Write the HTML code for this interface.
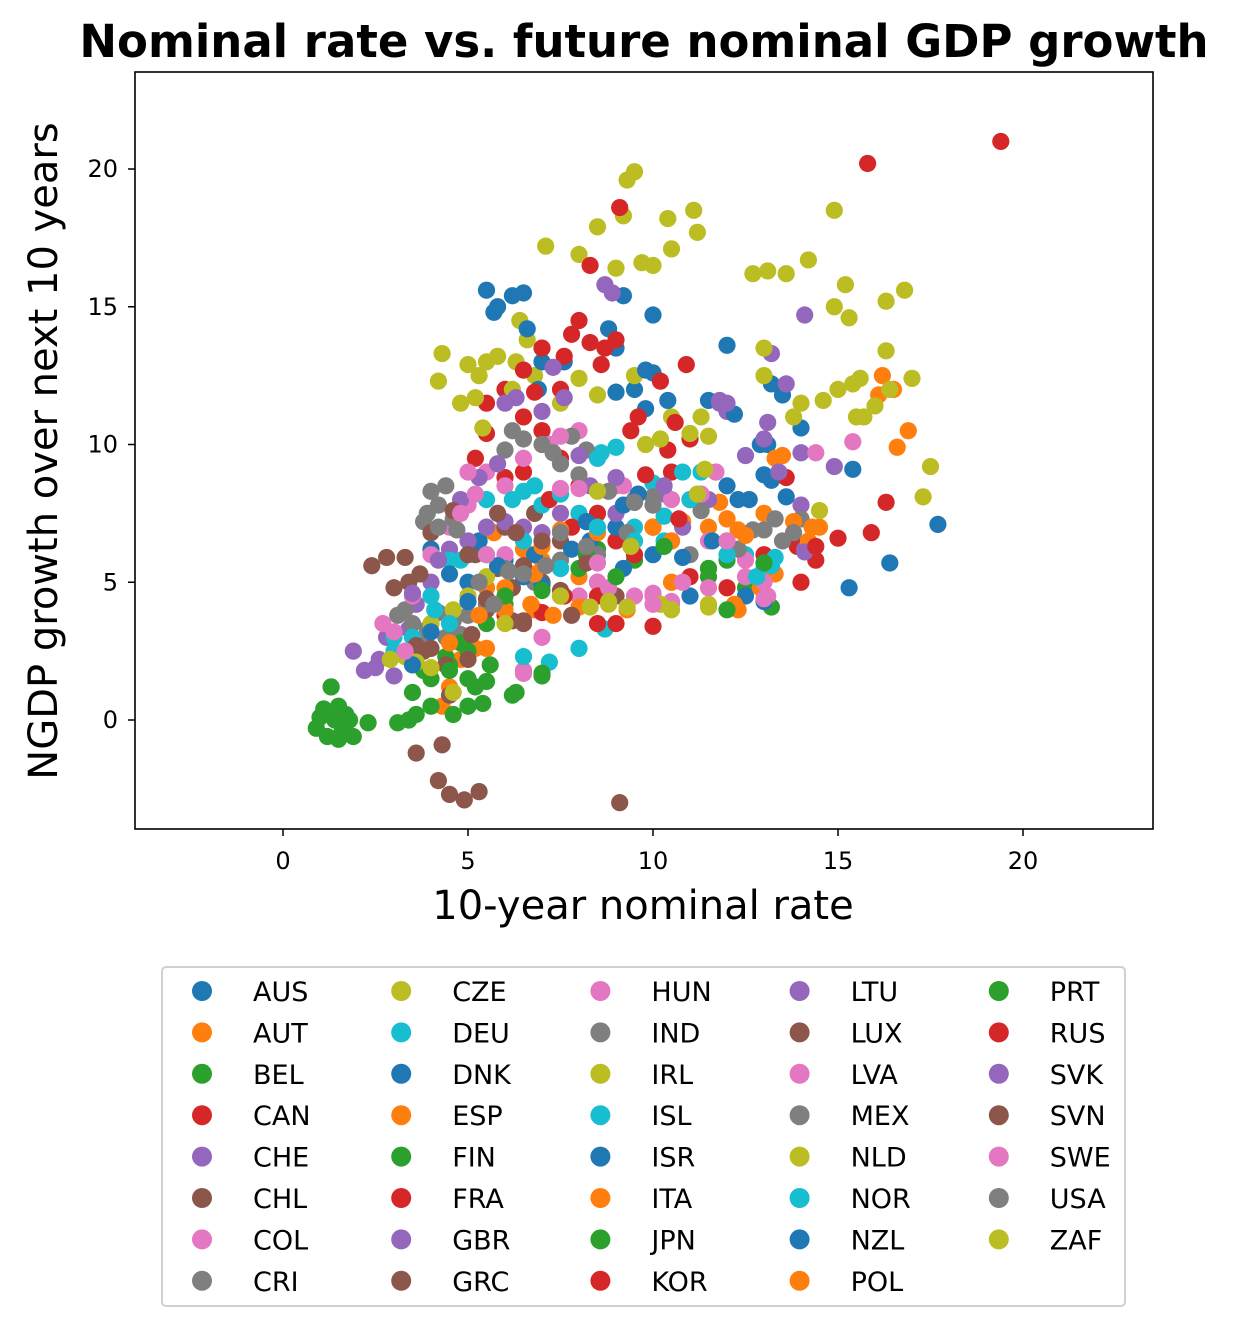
<!DOCTYPE html>
<html><head><meta charset="utf-8">
<style>
html,body{margin:0;padding:0;background:#fff;}
svg{display:block;font-family:"DejaVu Sans","Liberation Sans",sans-serif;}
</style></head>
<body>
<svg id="chart" width="1234" height="1334" viewBox="0 0 1234 1334" xmlns="http://www.w3.org/2000/svg">
<rect width="1234" height="1334" fill="#fff"/>
<text x="644" y="57" text-anchor="middle" font-size="45" font-weight="bold">Nominal rate vs. future nominal GDP growth</text>
<g id="points"></g>
<rect x="135" y="72" width="1018" height="757" fill="none" stroke="#000" stroke-width="1.6"/>
<g id="xticks"></g>
<g id="yticks"></g>
<text x="643" y="919" text-anchor="middle" font-size="40">10-year nominal rate</text>
<text transform="translate(57,451) rotate(-90)" text-anchor="middle" font-size="40">NGDP growth over next 10 years</text>
<rect x="162" y="967" width="963" height="339" rx="4" fill="#fff" stroke="#d0d0d0" stroke-width="2"/>
<g id="legend"></g>
</svg>
<script>
const countries = ["AUS","AUT","BEL","CAN","CHE","CHL","COL","CRI","CZE","DEU","DNK","ESP","FIN","FRA","GBR","GRC","HUN","IND","IRL","ISL","ISR","ITA","JPN","KOR","LTU","LUX","LVA","MEX","NLD","NOR","NZL","POL","PRT","RUS","SVK","SVN","SWE","USA","ZAF"];
const palette = ["#1f77b4","#ff7f0e","#2ca02c","#d62728","#9467bd","#8c564b","#e377c2","#7f7f7f","#bcbd22","#17becf"];
const xTicks = [0,5,10,15,20];
const yTicks = [0,5,10,15,20];
const pts_AUS=[[5.5,15.6],[5.8,15.0],[6.2,15.4],[6.5,15.5],[5.7,14.8],[9.2,15.4],[10.0,14.7],[9.0,13.5],[9.5,12.0],[10.0,12.6],[12.0,13.6],[13.2,12.2],[14.0,10.6],[12.9,10.0],[13.0,8.9],[13.6,8.1],[12.3,8.0],[11.5,11.6]];
const pts_AUT=[[4.3,0.5],[4.5,1.2],[5.0,3.0],[5.5,4.8],[6.0,5.5],[6.5,6.2],[7.0,5.8],[7.5,4.5],[8.0,5.2],[6.8,4.0],[5.7,6.8],[4.8,2.2],[5.2,2.6]];
const pts_BEL=[[4.0,1.5],[4.5,2.0],[5.0,2.5],[5.5,3.5],[6.0,4.2],[7.0,5.0],[8.0,5.5],[8.5,6.2],[9.5,5.8],[10.5,6.5],[12.0,5.8],[13.2,4.1],[12.5,4.8],[11.5,5.2]];
const pts_CAN=[[5.5,11.5],[6.0,12.0],[6.5,11.0],[7.0,10.5],[7.5,9.5],[8.0,8.5],[8.5,7.5],[9.0,6.5],[9.5,6.0],[10.0,7.0],[10.5,9.0],[11.0,8.0],[12.0,6.5],[13.0,6.0],[14.0,5.0],[14.4,5.8],[15.0,6.6],[13.9,6.3]];
const pts_CHE=[[1.3,1.2],[1.9,2.5],[2.2,1.8],[2.6,2.2],[2.8,3.0],[3.0,1.6],[3.4,3.3],[3.6,4.2],[4.0,5.0],[4.5,6.2],[3.8,2.5],[2.5,1.9]];
const pts_CHL=[[5.5,4.0],[6.5,3.5],[7.0,5.0],[6.0,7.0],[6.8,7.5],[7.5,6.5],[8.5,5.0],[9.0,4.5],[5.2,6.0],[6.2,4.8],[5.8,5.5]];
const pts_COL=[[6.5,1.8],[7.0,3.0],[8.0,4.5],[8.5,5.0],[9.5,4.5],[10.5,4.3],[11.5,4.8],[12.5,5.2],[13.1,4.5],[11.7,9.0],[9.2,8.5],[10.0,4.6]];
const pts_CRI=[[3.1,3.8],[3.5,3.5],[3.9,3.3],[4.2,3.9],[4.6,3.6],[5.0,3.8],[5.5,4.2],[4.4,3.0],[3.8,2.9],[3.3,4.0],[4.8,3.1]];
const pts_CZE=[[9.3,19.6],[9.5,19.9],[9.2,18.3],[10.4,18.2],[11.1,18.5],[11.2,17.7],[7.1,17.2],[8.0,16.9],[8.5,17.9],[9.0,16.4],[9.7,16.6],[10.0,16.5],[10.5,17.1],[6.4,14.5],[6.6,13.8],[6.3,13.0],[6.8,12.5]];
const pts_DEU=[[3.0,2.5],[3.5,3.0],[4.5,5.8],[5.0,6.0],[5.5,7.0],[6.5,8.3],[7.0,7.8],[8.0,7.5],[9.0,9.9],[8.6,9.7],[10.0,8.6],[10.8,9.0],[8.0,2.6],[6.5,2.3],[7.2,2.1],[8.7,3.3]];
const pts_DNK=[[4.0,6.2],[4.5,5.3],[5.0,5.0],[5.3,6.5],[6.0,5.8],[6.8,6.0],[7.5,5.5],[8.3,6.5],[9.0,7.0],[10.0,6.0],[11.0,4.5],[12.5,4.5],[13.0,4.3],[15.3,4.8],[16.4,5.7],[17.7,7.1],[15.4,9.1],[13.1,10.0]];
const pts_ESP=[[6.0,4.8],[7.0,6.3],[8.5,6.8],[10.0,7.0],[10.8,7.2],[11.5,7.0],[12.3,6.9],[13.0,7.5],[13.5,9.6],[14.5,7.0],[12.9,4.8],[12.2,4.2],[11.8,7.9]];
const pts_FIN=[[3.5,1.0],[4.0,0.5],[4.6,0.2],[5.0,1.5],[5.4,0.6],[5.2,1.2],[4.8,2.8],[5.6,2.0],[6.3,1.0],[7.0,1.7],[3.8,1.8],[4.4,2.3]];
const pts_FRA=[[5.2,9.5],[5.5,10.4],[6.0,8.8],[6.5,9.0],[7.2,8.0],[7.8,7.0],[8.5,4.5],[9.0,3.5],[10.0,3.4],[8.5,3.5],[6.0,3.8],[7.0,3.9],[7.6,4.5]];
const pts_GBR=[[5.0,6.5],[6.0,7.2],[6.5,7.0],[7.0,6.8],[7.5,7.5],[8.3,8.5],[9.0,7.5],[10.3,8.2],[11.5,8.0],[11.8,11.5],[12.0,11.2],[13.1,10.8],[14.0,7.8],[14.1,6.2],[10.8,7.0]];
const pts_GRC=[[3.6,-1.2],[4.2,-2.2],[4.5,-2.7],[4.9,-2.9],[5.3,-2.6],[4.3,-0.9],[9.1,-3.0],[4.5,0.9],[3.8,2.5],[4.4,2.0],[5.1,3.1],[6.2,3.6]];
const pts_HUN=[[5.0,7.8],[5.5,9.0],[6.0,8.5],[6.5,9.5],[7.2,10.0],[8.0,10.5],[8.5,9.5],[9.0,8.5],[10.5,8.0],[11.5,6.5],[12.0,7.3],[11.7,9.0]];
const pts_IND=[[6.0,9.8],[6.2,10.5],[6.5,10.2],[7.0,10.0],[7.5,9.3],[7.8,10.3],[8.2,9.8],[8.0,8.9],[7.3,9.7],[9.5,8.0],[10.0,8.1],[11.3,7.6],[12.7,6.9],[13.5,6.5]];
const pts_IRL=[[4.2,12.3],[4.3,13.3],[4.8,11.5],[5.2,11.7],[5.5,13.0],[5.0,12.9],[5.3,12.5],[5.8,13.2],[6.2,12.0],[7.5,11.5],[8.0,12.4],[8.5,11.8],[9.5,12.5],[10.5,11.0],[11.5,10.3],[5.4,10.6]];
const pts_ISL=[[4.0,4.5],[4.8,5.8],[5.5,8.0],[6.2,8.0],[6.8,8.5],[7.5,8.2],[8.5,9.5],[9.5,7.0],[10.3,6.5],[11.3,9.0],[12.5,6.0],[13.0,5.5],[13.3,5.9]];
const pts_ISR=[[6.6,14.2],[7.0,13.0],[6.9,12.0],[7.6,13.0],[8.8,14.2],[9.8,12.7],[10.4,11.6],[9.8,11.3],[8.2,7.2],[9.2,7.8],[9.6,8.2],[12.2,11.1],[13.5,11.8]];
const pts_ITA=[[4.5,2.8],[5.3,3.8],[6.0,4.0],[6.7,4.2],[7.3,3.8],[8.0,4.1],[9.3,4.0],[10.5,5.0],[11.5,5.5],[12.3,4.0],[13.3,5.3],[14.2,6.5]];
const pts_JPN=[[0.9,-0.3],[1.1,0.4],[1.2,-0.6],[1.4,0.0],[1.5,0.5],[1.6,-0.4],[1.7,0.2],[1.9,-0.6],[1.3,1.2],[1.8,0.0],[2.3,-0.1],[3.1,-0.1],[3.4,0.0],[3.6,0.2],[1.0,0.1],[1.5,-0.7]];
const pts_KOR=[[7.0,13.5],[7.5,12.0],[7.8,14.0],[8.0,14.5],[8.3,13.7],[8.7,13.5],[9.0,13.8],[8.6,12.9],[7.6,13.2],[10.2,12.3],[10.9,12.9],[10.6,10.8],[11.0,10.2],[10.4,9.8],[9.6,11.0],[9.4,10.5],[6.5,12.7],[6.8,11.9]];
const pts_LTU=[[4.8,8.0],[5.3,8.8],[5.8,9.3],[6.3,11.7],[7.3,12.8],[7.6,11.7],[8.7,15.8],[8.9,15.5],[12.0,11.5],[13.2,13.3],[13.6,12.2],[14.1,14.7],[14.0,9.7],[14.9,9.2],[14.1,6.1]];
const pts_LUX=[[2.4,5.6],[2.8,5.9],[3.3,5.9],[3.0,4.8],[3.4,5.0],[3.7,5.3],[4.0,2.6],[3.6,2.7],[5.0,2.2],[6.5,3.6],[7.5,4.7]];
const pts_LVA=[[2.7,3.5],[3.5,4.5],[4.0,6.0],[4.5,7.0],[5.0,9.0],[5.2,8.2],[6.0,6.0],[7.5,8.4],[8.8,4.8],[10.0,4.5],[10.5,4.2],[12.5,5.8],[13.0,5.0]];
const pts_MEX=[[3.9,7.5],[4.0,8.3],[4.4,8.5],[4.2,7.8],[3.8,7.2],[4.6,7.3],[6.0,5.5],[6.8,5.0],[7.5,5.8],[8.5,6.0],[9.3,6.8],[9.5,7.9],[11.0,6.0],[12.3,6.2],[13.0,6.9],[14.0,7.3]];
const pts_NLD=[[2.9,2.2],[3.3,2.3],[3.6,2.1],[4.0,1.9],[4.6,1.0],[4.0,3.5],[4.6,4.0],[5.0,4.5],[5.5,5.2],[6.0,3.5],[7.5,4.5],[8.3,4.1],[8.8,4.3],[9.3,4.1],[10.2,4.2],[11.5,4.1]];
const pts_NOR=[[3.0,3.0],[4.1,4.0],[4.5,3.5],[5.5,6.0],[6.5,6.5],[7.5,5.5],[8.5,7.0],[9.5,6.5],[10.3,7.4],[11.0,8.0],[12.0,6.0],[13.2,5.6],[12.8,5.2]];
const pts_NZL=[[3.5,2.0],[4.0,3.2],[5.0,4.3],[5.8,5.6],[6.5,5.2],[7.0,4.9],[7.8,6.2],[9.2,5.5],[9.0,11.9],[10.8,5.9],[11.6,6.5],[12.0,8.5],[12.6,8.0],[13.2,8.7]];
const pts_POL=[[5.5,2.6],[6.8,5.3],[7.5,6.9],[10.5,6.5],[12.0,7.3],[12.5,6.7],[13.3,9.5],[14.3,7.0],[16.2,12.5],[16.5,12.0],[16.9,10.5],[16.6,9.9],[16.1,11.8],[13.8,7.2]];
const pts_PRT=[[4.5,1.8],[5.0,0.5],[5.5,1.4],[6.5,1.7],[7.0,1.6],[6.2,0.9],[6.0,4.5],[7.0,4.7],[8.2,6.0],[9.0,5.2],[10.3,6.3],[11.5,5.5],[12.0,4.0],[13.0,5.7]];
const pts_RUS=[[19.4,21.0],[15.8,20.2],[9.1,18.6],[8.3,16.5],[16.3,7.9],[15.9,6.8],[14.4,6.3],[13.6,8.8],[12.0,4.8],[11.0,5.2],[10.7,7.3],[9.8,8.9]];
const pts_SVK=[[3.5,4.6],[4.2,5.8],[5.5,7.0],[6.0,11.5],[7.0,11.2],[8.0,9.6],[9.0,8.8],[10.3,8.5],[11.8,11.6],[12.5,9.6],[13.0,10.2],[13.4,9.0]];
const pts_SVN=[[4.0,6.8],[4.6,7.6],[5.0,6.0],[5.8,7.5],[6.3,6.8],[7.0,6.5],[8.2,5.7],[6.5,5.6],[7.8,3.8],[5.5,4.4]];
const pts_SWE=[[3.0,3.2],[3.3,2.5],[4.8,7.5],[5.5,6.0],[6.5,1.7],[7.5,10.3],[8.0,8.4],[8.5,5.7],[10.0,4.2],[10.8,5.0],[11.3,8.2],[12.0,6.5],[14.4,9.7],[15.4,10.1],[13.0,4.4]];
const pts_USA=[[4.2,7.0],[4.7,6.9],[5.3,5.0],[5.7,4.2],[6.1,5.4],[6.5,5.3],[7.1,5.6],[7.5,6.8],[8.2,6.3],[8.8,8.3],[9.5,7.9],[10.0,7.8],[13.3,7.3],[13.8,6.8]];
const pts_ZAF=[[12.7,16.2],[13.1,16.3],[13.6,16.2],[14.2,16.7],[14.9,18.5],[15.2,15.8],[14.9,15.0],[15.3,14.6],[16.3,15.2],[16.8,15.6],[16.3,13.4],[17.0,12.4],[17.5,9.2],[17.3,8.1],[13.0,13.5],[13.0,12.5],[14.0,11.5],[14.6,11.6],[15.0,12.0],[15.4,12.2],[15.6,12.4],[15.5,11.0],[16.0,11.4],[16.4,12.0],[15.7,11.0],[13.8,11.0],[14.5,7.6],[11.3,11.0],[11.0,10.4],[11.4,9.1],[11.2,8.2],[10.2,10.2],[9.8,10.0],[8.5,8.3],[9.4,6.3],[8.8,4.2],[10.5,4.0],[11.5,4.2]];
const seriesPoints = [pts_AUS,pts_AUT,pts_BEL,pts_CAN,pts_CHE,pts_CHL,pts_COL,pts_CRI,pts_CZE,pts_DEU,pts_DNK,pts_ESP,pts_FIN,pts_FRA,pts_GBR,pts_GRC,pts_HUN,pts_IND,pts_IRL,pts_ISL,pts_ISR,pts_ITA,pts_JPN,pts_KOR,pts_LTU,pts_LUX,pts_LVA,pts_MEX,pts_NLD,pts_NOR,pts_NZL,pts_POL,pts_PRT,pts_RUS,pts_SVK,pts_SVN,pts_SWE,pts_USA,pts_ZAF];

const NS = "http://www.w3.org/2000/svg";
function xs(v){ return 283 + v * 37.0; }
function ys(v){ return 720 - v * 27.55; }
function mk(tag, attrs){ const e=document.createElementNS(NS,tag); for(const k in attrs) e.setAttribute(k,attrs[k]); return e; }

const pg = document.getElementById('points');
seriesPoints.forEach((pts, i) => {
  const g = mk('g', {});
  
  
  pts.forEach(p => {
    const c = mk('circle', {cx: xs(p[0]), cy: ys(p[1]), r: 8.6, fill: palette[i % 10]});
    
    
    g.appendChild(c);
  });
  pg.appendChild(g);
});

const xg = document.getElementById('xticks');
xTicks.forEach(t => {
  const x = xs(t);
  const l = mk('line', {x1:x, x2:x, y1:829, y2:836, stroke:'#000', 'stroke-width':1.5});
  
  
  xg.appendChild(l);
  const tx = mk('text', {x:x, y:869, 'text-anchor':'middle', 'font-size':24});
  
  
  tx.textContent = t; xg.appendChild(tx);
});
const yg = document.getElementById('yticks');
yTicks.forEach(t => {
  const y = ys(t);
  const l = mk('line', {x1:128, x2:135, y1:y, y2:y, stroke:'#000', 'stroke-width':1.5});
  
  
  yg.appendChild(l);
  const tx = mk('text', {x:118, y:y+8, 'text-anchor':'end', 'font-size':24});
  
  
  tx.textContent = t; yg.appendChild(tx);
});

const lg = document.getElementById('legend');
countries.forEach((c, i) => {
  const col = Math.floor(i / 8), row = i % 8;
  const mx = 202 + col * 199.2, my = 991 + row * 41.4;
  const g = mk('g', {});
  
  
  g.appendChild(mk('circle', {cx:mx, cy:my, r:10, fill:palette[i % 10]}));
  const t = mk('text', {x:mx+51, y:my+10, 'font-size':27});
  t.textContent = c; g.appendChild(t);
  lg.appendChild(g);
});
</script>
</body></html>
